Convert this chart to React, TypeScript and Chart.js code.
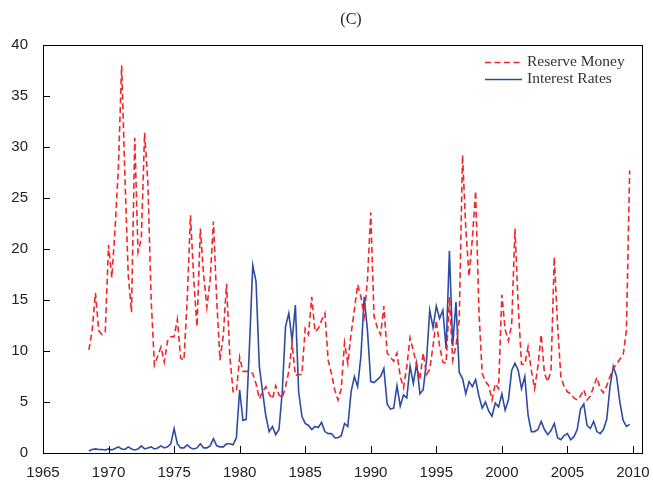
import React, { useEffect, useRef } from "react";
import { Chart, registerables } from "chart.js";

Chart.register(...registerables);

const startYear = 1968.5; // first quarter shown
const quarterStep = 0.25;
const xTickYears = [1965, 1970, 1975, 1980, 1985, 1990, 1995, 2000, 2005, 2010];
const yTickValues = [0, 5, 10, 15, 20, 25, 30, 35, 40];
const titleText = "(C)";
const seriesNames = ["Reserve Money", "Interest Rates"];

const reserveMoney = [
  10.1, 12.0,
  15.7, 12.0, 11.6, 11.9,
  20.4, 17.2, 22.0, 28.0,
  38.0, 27.0, 17.5, 13.8,
  30.9, 19.7, 21.0, 31.4,
  26.5, 15.0, 8.6, 9.5,
  10.4, 8.9, 11.0, 11.4,
  11.4, 13.1, 9.3, 9.1,
  15.0, 23.3, 17.0, 12.4,
  22.0, 17.5, 14.3, 17.0,
  22.7, 15.0, 9.1, 11.5,
  16.6, 9.5, 6.0, 6.0,
  9.4, 8.0, 8.0, 8.0,
  7.8, 6.8, 5.3, 6.0,
  6.5, 5.8, 5.3, 6.6,
  5.7, 5.4, 6.5, 8.0,
  10.7, 7.6, 7.7, 7.7,
  12.2, 11.6, 15.3, 11.9,
  12.2, 13.0, 13.7, 9.1,
  7.8, 6.2, 5.2, 6.3,
  10.8, 8.8, 11.7, 14.0,
  16.5, 15.3, 13.4, 17.0,
  23.6, 13.4, 12.3, 11.6,
  14.4, 9.8, 9.4, 9.0,
  9.8, 7.5, 6.4, 8.5,
  11.3, 10.0, 8.6, 7.2,
  9.8, 7.7, 8.2, 10.5,
  13.0, 10.5, 8.9, 8.8,
  15.3, 9.1, 10.5, 13.0,
  29.2, 22.0, 17.3, 21.0,
  25.7, 14.0, 7.8, 7.0,
  6.6, 5.2, 6.8, 6.3,
  15.5, 12.1, 11.0, 12.6,
  22.0, 14.4, 8.7, 8.7,
  10.4, 8.1, 6.3, 8.5,
  11.6, 7.8, 7.0, 8.1,
  19.2, 12.5, 7.5, 6.5,
  6.0, 5.8, 5.4, 5.2,
  5.6, 6.2, 5.2, 5.6,
  6.5, 7.4, 6.3, 5.9,
  6.6, 7.5, 8.3, 8.7,
  9.2, 9.6, 12.0, 27.7,
];

const interestRates = [
  0.2, 0.35,
  0.4, 0.35, 0.35, 0.3,
  0.4, 0.3, 0.45, 0.6,
  0.4, 0.35, 0.6, 0.4,
  0.3, 0.4, 0.7, 0.4,
  0.5, 0.6, 0.4, 0.5,
  0.7, 0.5, 0.6, 0.9,
  2.4, 0.9, 0.5, 0.5,
  0.8, 0.5, 0.4, 0.5,
  0.9, 0.5, 0.5, 0.7,
  1.4, 0.7, 0.6, 0.6,
  0.9, 0.9, 0.8, 1.5,
  6.2, 3.2, 3.3, 10.5,
  18.4, 16.8, 8.5, 6.0,
  3.6, 2.1, 2.6, 1.8,
  2.3, 6.0, 12.4, 13.7,
  11.0, 14.5, 6.0, 3.6,
  2.9, 2.7, 2.3, 2.6,
  2.5, 3.0, 2.1, 1.9,
  1.9, 1.5, 1.5, 1.7,
  2.9, 2.6, 6.0, 7.5,
  6.5, 9.5, 15.3, 12.0,
  7.0, 6.9, 7.2, 7.5,
  8.3, 4.8, 4.3, 4.4,
  6.6, 4.6, 5.7, 5.4,
  8.5, 6.8, 8.8, 5.8,
  6.2, 9.0, 14.0, 12.3,
  14.4, 13.2, 14.0, 10.2,
  19.8, 10.5, 14.8, 7.9,
  7.3, 5.8, 7.0, 6.5,
  7.2, 5.6, 4.4, 5.0,
  4.1, 3.6, 4.9, 4.5,
  5.8, 4.2, 5.2, 8.1,
  8.8, 8.1, 6.3, 7.5,
  3.7, 2.1, 2.1, 2.3,
  3.1, 2.3, 1.8, 2.2,
  2.9, 1.5, 1.3, 1.7,
  1.9, 1.3, 1.6, 2.3,
  4.3, 4.8, 2.7, 2.4,
  3.1, 2.1, 1.9, 2.3,
  3.3, 6.5, 8.5, 7.5,
  5.0, 3.2, 2.6, 2.8,
];

const RED = "#F0262B";
const BLUE = "#2E4BA3";
const RED_DASH = [6, 3.5];

const toPoints = (vals: number[]) =>
  vals.map((v, i) => ({ x: startYear + i * quarterStep, y: v }));

const decorPlugin = {
  id: "decor",
  afterDraw(chart: any) {
    const { ctx, chartArea } = chart;
    const { left, right, top, bottom } = chartArea;
    const xs = chart.scales.x;
    const ys = chart.scales.y;
    ctx.save();
    ctx.strokeStyle = "#000";
    ctx.lineWidth = 1;
    ctx.setLineDash([]);
    ctx.strokeRect(Math.round(left) + 0.5, Math.round(top) + 0.5, Math.round(right - left), Math.round(bottom - top));
    ctx.beginPath();
    yTickValues.forEach((v) => {
      if (v === 0 || v === 40) return;
      const y = Math.round(ys.getPixelForValue(v)) + 0.5;
      ctx.moveTo(left, y);
      ctx.lineTo(left + 7, y);
    });
    xTickYears.forEach((v) => {
      if (v === 1965) return;
      const x = Math.round(xs.getPixelForValue(v)) + 0.5;
      ctx.moveTo(x, bottom);
      ctx.lineTo(x, bottom - 7);
    });
    ctx.stroke();
    ctx.fillStyle = "#222";
    ctx.font = "16px 'Liberation Serif'";
    ctx.textAlign = "center";
    ctx.textBaseline = "middle";
    ctx.fillText(titleText, 351, 20);
    const ds = chart.data.datasets;
    const lx0 = 485, lx1 = 522, tx = 527;
    const rows = [62, 79];
    ds.forEach((d: any, i: number) => {
      const y = rows[i] + 0.5;
      ctx.strokeStyle = d.borderColor;
      ctx.lineWidth = 1.5;
      ctx.setLineDash(d.borderDash || []);
      ctx.beginPath();
      ctx.moveTo(lx0, y);
      ctx.lineTo(lx1, y);
      ctx.stroke();
      ctx.setLineDash([]);
      ctx.fillStyle = "#333";
      ctx.font = "15.5px 'Liberation Serif'";
      ctx.textAlign = "left";
      ctx.textBaseline = "middle";
      ctx.fillText(d.label, tx, rows[i]);
    });
    ctx.restore();
  },
};

export default function App() {
  const canvasRef = useRef<HTMLCanvasElement | null>(null);

  useEffect(() => {
    const canvas = canvasRef.current;
    if (!canvas) return;
    const chart = new Chart(canvas, {
      type: "line",
      data: {
        datasets: [
          {
            label: seriesNames[0],
            data: toPoints(reserveMoney),
            borderColor: RED,
            borderWidth: 1.6,
            borderDash: RED_DASH,
            pointRadius: 0,
            tension: 0,
            fill: false,
          },
          {
            label: seriesNames[1],
            data: toPoints(interestRates),
            borderColor: BLUE,
            borderWidth: 1.6,
            pointRadius: 0,
            tension: 0,
            fill: false,
          },
        ],
      },
      options: {
        responsive: false,
        animation: false,
        devicePixelRatio: 1,
        layout: { padding: { top: 45, right: 11, left: 0, bottom: 0 } },
        plugins: {
          legend: { display: false },
          title: { display: false },
          tooltip: { enabled: false },
        },
        scales: {
          x: {
            type: "linear",
            min: 1965,
            max: 2010.69,
            afterBuildTicks: (scale: any) => {
              scale.ticks = xTickYears.map((v) => ({ value: v }));
            },
            afterFit: (scale: any) => {
              scale.height = 32;
            },
            grid: { display: false },
            border: { display: false },
            ticks: {
              autoSkip: false,
              maxRotation: 0,
              padding: 3,
              color: "#222",
              font: { family: "'Liberation Sans'", size: 15 },
              callback: (v: any) => String(v),
            },
          },
          y: {
            min: 0,
            max: 40,
            afterBuildTicks: (scale: any) => {
              scale.ticks = yTickValues.map((v) => ({ value: v }));
            },
            afterFit: (scale: any) => {
              scale.width = 43;
            },
            grid: { display: false },
            border: { display: false },
            ticks: {
              padding: 7,
              color: "#222",
              font: { family: "'Liberation Sans'", size: 15 },
              callback: (v: any) => String(v),
            },
          },
        },
      },
      plugins: [decorPlugin],
    });
    return () => chart.destroy();
  }, []);

  return (
    <div style={{ position: "absolute", left: 0, top: 0, width: 653, height: 485, background: "#fff" }}>
      <canvas ref={canvasRef} width={653} height={485} style={{ width: 653, height: 485 }} />
    </div>
  );
}
